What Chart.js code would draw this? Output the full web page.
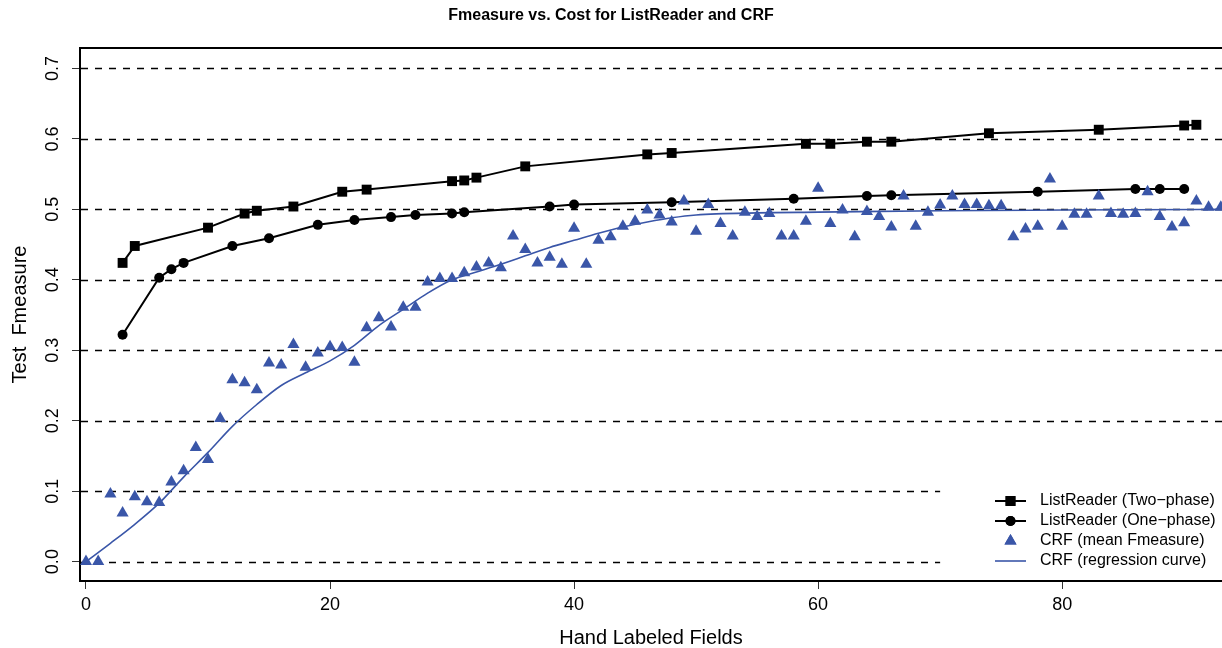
<!DOCTYPE html>
<html>
<head>
<meta charset="utf-8">
<script src="https://cdn.jsdelivr.net/npm/chart.js@4.4.1/dist/chart.umd.min.js"></script>
<style>
  html, body { margin: 0; padding: 0; background: #fff; }
  #wrap { width: 1222px; height: 648px; }
</style>
</head>
<body>
<div id="wrap"><canvas id="c" width="1222" height="648"></canvas></div>
<script>
// ---------- data ----------
const chartTitle = 'Fmeasure vs. Cost for ListReader and CRF';
const xTitle = 'Hand Labeled Fields';
const yTitle = 'Test  Fmeasure';
const seriesLabels = ['ListReader (Two\u2212phase)', 'ListReader (One\u2212phase)', 'CRF (mean Fmeasure)', 'CRF (regression curve)'];

const xTicks = [0, 20, 40, 60, 80];
const yTicks = [0.0, 0.1, 0.2, 0.3, 0.4, 0.5, 0.6, 0.7];
const shortGridEnd = 70; // gridlines at 0.0 and 0.1 stop at this x value

const twoPhaseX = [3, 4, 10, 13, 14, 17, 21, 23, 30, 31, 32, 36, 46, 48, 59, 61, 64, 66, 74, 83, 90, 91];
const twoPhaseY = [0.424, 0.448, 0.474, 0.494, 0.498, 0.504, 0.525, 0.528, 0.540, 0.541, 0.545, 0.561, 0.578, 0.580, 0.593, 0.593, 0.596, 0.596, 0.608, 0.613, 0.619, 0.620];

const onePhaseX = [3, 6, 7, 8, 12, 15, 19, 22, 25, 27, 30, 31, 38, 40, 48, 58, 64, 66, 78, 86, 88, 90];
const onePhaseY = [0.322, 0.403, 0.415, 0.424, 0.448, 0.459, 0.478, 0.485, 0.489, 0.492, 0.494, 0.496, 0.504, 0.507, 0.510, 0.515, 0.519, 0.520, 0.525, 0.529, 0.529, 0.529];

const crfX = [0,1,2,3,4,5,6,7,8,9,10,11,12,13,14,15,16,17,18,19,20,21,22,23,24,25,26,27,28,29,30,31,32,33,34,35,36,37,38,39,40,41,42,43,44,45,46,47,48,49,50,51,52,53,54,55,56,57,58,59,60,61,62,63,64,65,66,67,68,69,70,71,72,73,74,75,76,77,78,79,80,81,82,83,84,85,86,87,88,89,90,91,92,93];
const crfY = [0.000, 0.000, 0.096, 0.069, 0.092, 0.085, 0.084, 0.113, 0.129, 0.162,
              0.145, 0.203, 0.258, 0.254, 0.244, 0.282, 0.279, 0.308, 0.276, 0.296,
              0.305, 0.304, 0.283, 0.332, 0.346, 0.333, 0.361, 0.361, 0.397, 0.402,
              0.402, 0.410, 0.418, 0.424, 0.417, 0.462, 0.443, 0.424, 0.432, 0.422,
              0.473, 0.422, 0.456, 0.461, 0.476, 0.483, 0.499, 0.492, 0.482, 0.512,
              0.469, 0.507, 0.480, 0.462, 0.496, 0.490, 0.494, 0.462, 0.462, 0.483,
              0.530, 0.480, 0.499, 0.461, 0.497, 0.490, 0.475, 0.519, 0.476, 0.496,
              0.506, 0.519, 0.507, 0.507, 0.505, 0.505, 0.461, 0.472, 0.476, 0.543,
              0.476, 0.493, 0.493, 0.519, 0.494, 0.493, 0.494, 0.525, 0.490, 0.475,
              0.481, 0.512, 0.503, 0.503];

const regX = [0, 2, 4, 6, 8, 10, 12, 14, 16, 18, 20, 22, 24, 26, 28, 30, 32, 34, 36, 38, 40, 42, 44, 46, 48, 50, 55, 60, 70, 80, 93];
const regY = [0.000, 0.026, 0.053, 0.083, 0.120, 0.155, 0.192, 0.223, 0.250, 0.268, 0.285, 0.307, 0.335, 0.358, 0.381, 0.400, 0.411, 0.422, 0.434, 0.446, 0.456, 0.466, 0.475, 0.482, 0.488, 0.492, 0.495, 0.496, 0.498, 0.499, 0.500];

// ---------- styling ----------
const BLUE = '#3A56A8';
const FONT = "'Liberation Sans', Arial, Helvetica, sans-serif";
const pts = (xs, ys) => xs.map((x, i) => ({x: x, y: ys[i]}));

Chart.defaults.font.family = FONT;
Chart.defaults.color = '#000';

const dashGrid = {
  id: 'dashGrid',
  beforeDatasetsDraw(chart) {
    const {ctx, chartArea, scales: {x, y}} = chart;
    ctx.save();
    ctx.strokeStyle = '#000';
    ctx.lineWidth = 1.5;
    ctx.setLineDash([7, 7]);
    yTicks.forEach(v => {
      const py = Math.round(y.getPixelForValue(v)) + 0.5;
      const x1 = v <= 0.1 ? x.getPixelForValue(shortGridEnd) : chartArea.right;
      ctx.beginPath();
      ctx.moveTo(chartArea.left + 1, py);
      ctx.lineTo(x1, py);
      ctx.stroke();
    });
    ctx.setLineDash([]);
    // top border of the plot box
    ctx.lineWidth = 2;
    ctx.beginPath();
    ctx.moveTo(chartArea.left - 1, chartArea.top);
    ctx.lineTo(chartArea.right, chartArea.top);
    ctx.stroke();
    ctx.restore();
  }
};

const customLegend = {
  id: 'customLegend',
  afterDraw(chart) {
    const {ctx, chartArea} = chart;
    const ds = chart.data.datasets;
    const order = [0, 1, 2, 3]; // dataset indices in legend order
    const lineX0 = chartArea.right - 227, lineX1 = chartArea.right - 196;
    const markX = (lineX0 + lineX1) / 2;
    const textX = chartArea.right - 182;
    const rowY0 = chartArea.bottom - 80, rowStep = 20;
    ctx.save();
    ctx.font = '16px ' + FONT;
    ctx.textBaseline = 'middle';
    ctx.textAlign = 'left';
    order.forEach((di, row) => {
      const d = ds[di];
      const yy = rowY0 + row * rowStep;
      if (d.showLine !== false) {
        ctx.strokeStyle = d.borderColor;
        ctx.lineWidth = d.borderWidth;
        ctx.beginPath();
        ctx.moveTo(lineX0, yy);
        ctx.lineTo(lineX1, yy);
        ctx.stroke();
      }
      if (d.pointRadius > 0) {
        ctx.fillStyle = d.pointBackgroundColor;
        ctx.strokeStyle = d.pointBorderColor;
        ctx.lineWidth = 0;
        Chart.helpers.drawPoint(ctx, {pointStyle: d.pointStyle, radius: d.pointRadius, rotation: 0, borderWidth: 0}, markX, yy);
        ctx.fill();
      }
      ctx.fillStyle = '#000';
      ctx.fillText(d.label, textX, yy);
    });
    ctx.restore();
  }
};

new Chart(document.getElementById('c'), {
  type: 'line',
  data: {
    datasets: [
      {
        label: seriesLabels[0], data: pts(twoPhaseX, twoPhaseY), order: 2,
        borderColor: '#000', borderWidth: 2, tension: 0,
        pointStyle: 'rect', pointRadius: 7, pointBackgroundColor: '#000', pointBorderColor: '#000', pointBorderWidth: 0
      },
      {
        label: seriesLabels[1], data: pts(onePhaseX, onePhaseY), order: 3,
        borderColor: '#000', borderWidth: 2, tension: 0,
        pointStyle: 'circle', pointRadius: 5, pointBackgroundColor: '#000', pointBorderColor: '#000', pointBorderWidth: 0
      },
      {
        label: seriesLabels[2], data: pts(crfX, crfY), order: 0,
        showLine: false, borderColor: BLUE, borderWidth: 0,
        pointStyle: 'triangle', pointRadius: 7, pointBackgroundColor: BLUE, pointBorderColor: BLUE, pointBorderWidth: 0
      },
      {
        label: seriesLabels[3], data: pts(regX, regY), order: 1,
        borderColor: BLUE, borderWidth: 1.6, cubicInterpolationMode: 'monotone',
        pointRadius: 0, pointBackgroundColor: BLUE, pointBorderColor: BLUE
      }
    ]
  },
  options: {
    responsive: false,
    animation: false,
    events: [],
    layout: { padding: 0, autoPadding: false },
    plugins: {
      legend: { display: false },
      tooltip: { enabled: false },
      title: {
        display: true, text: chartTitle, color: '#000',
        font: { size: 16, weight: 'bold', family: FONT, lineHeight: 1.2 },
        padding: { top: 6, bottom: 22.8 }
      }
    },
    scales: {
      x: {
        type: 'linear', min: -0.49, max: 93.1,
        afterFit: s => { s.height = 67; },
        afterBuildTicks: s => { s.ticks = xTicks.map(v => ({value: v})); },
        border: { display: true, color: '#000', width: 2 },
        grid: { drawOnChartArea: false, drawTicks: true, tickLength: 8, color: '#333', lineWidth: 1 },
        ticks: { font: { size: 18, family: FONT }, color: '#000', padding: 5, maxRotation: 0, callback: v => String(v) },
        title: { display: true, text: xTitle, color: '#000', font: { size: 20, family: FONT, lineHeight: 1 }, padding: { top: 0, bottom: 0 } }
      },
      y: {
        type: 'linear', min: -0.0275, max: 0.729,
        afterFit: s => { s.width = 80; },
        afterBuildTicks: s => { s.ticks = yTicks.map(v => ({value: v})); },
        border: { display: true, color: '#000', width: 2 },
        grid: { drawOnChartArea: false, drawTicks: true, tickLength: 8, color: '#333', lineWidth: 1 },
        ticks: { font: { size: 18, family: FONT }, color: '#000', padding: 6, minRotation: 90, maxRotation: 90, crossAlign: 'center', callback: v => Number(v).toFixed(1) },
        title: { display: true, text: yTitle, color: '#000', font: { size: 20, family: FONT, lineHeight: 1 }, padding: { top: 10, bottom: 0 } }
      }
    }
  },
  plugins: [dashGrid, customLegend]
});
</script>
</body>
</html>
